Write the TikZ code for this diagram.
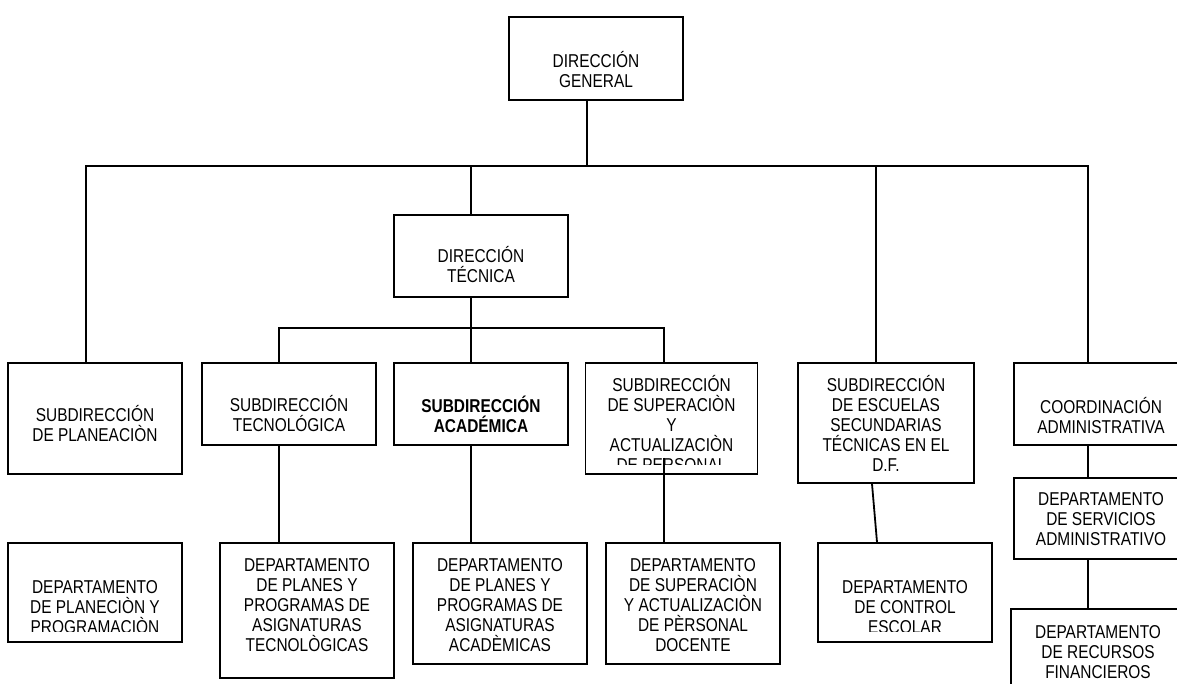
\documentclass[tikz,border=0pt]{standalone}
\usepackage{fontspec}
\newfontfamily\orgfont{Liberation Sans}[FakeStretch=0.83]
\usetikzlibrary{calc}

\tikzset{
  orgtext/.style={font=\orgfont\fontsize{18.6}{20}\selectfont, align=center, anchor=base,
    inner sep=0pt},
  orgbox/.style={draw, line width=1.8pt, inner sep=0pt, minimum width=174pt},
  link/.style={line width=1.8pt}
}

\begin{document}
\begin{tikzpicture}[x=1pt, y=-1pt]
    \useasboundingbox (0,0) rectangle (1177,684);
    \clip (0,0) rectangle (1177,684);

    \node[orgbox, minimum height=83pt] (gen) at (596,58.5) {};
    \node[orgbox, minimum height=82pt] (tec) at (481,256) {};
    \node[orgtext] (gen-t) at (596,88) {DIRECCIÓN\\GENERAL};
    \node[orgtext] (tec-t) at (481,283) {DIRECCIÓN\\TÉCNICA};

    % subdirecciones
    \node[orgbox, minimum height=111pt] (plan) at (95,418.5) {};
    \node[orgbox, minimum height=82pt] (tecn) at (289,404) {};
    \node[orgbox, minimum height=82pt] (acad) at (481,404) {};
    \node[orgbox, minimum width=172pt, minimum height=111pt] (sup) at (671.5,418.5) {};
    \node[orgbox, minimum width=176pt, minimum height=120pt] (esc) at (886,423) {};
    \node[orgbox, minimum height=82pt] (coord) at (1101,404) {};

    \node[orgtext] (plan-t) at (95,441) {SUBDIRECCIÓN\\DE PLANEACIÒN};
    \node[orgtext] (tecn-t) at (289,431) {SUBDIRECCIÓN\\TECNOLÓGICA};
    \node[orgtext, font=\orgfont\bfseries\fontsize{18.6}{20}\selectfont] (acad-t) at (481,432) {SUBDIRECCIÓN\\ACADÉMICA};
    \begin{scope}
        \clip (sup.north west) rectangle ([yshift=10pt]sup.south east);
        \node[orgtext] (sup-t) at (671.5,471) {SUBDIRECCIÓN\\DE SUPERACIÒN\\Y\\ACTUALIZACIÒN\\DE PERSONAL};
    \end{scope}
    \node[orgtext] (esc-t) at (886,471) {SUBDIRECCIÓN\\DE ESCUELAS\\SECUNDARIAS\\TÉCNICAS EN EL\\D.F.};
    \node[orgtext] (coord-t) at (1101,433) {COORDINACIÓN\\ADMINISTRATIVA};

    % departamentos
    \node[orgbox, minimum height=99pt] (dplan) at (95,592.5) {};
    \node[orgbox, minimum height=135pt] (dtecn) at (307,610.5) {};
    \node[orgbox, minimum height=121pt] (dacad) at (500,603.5) {};
    \node[orgbox, minimum height=121pt] (dsup) at (693,603.5) {};
    \node[orgbox, minimum height=99pt] (desc) at (905,592.5) {};
    \node[orgbox, minimum height=81pt] (dserv) at (1101,518.5) {};
    \node[orgbox, minimum height=101pt] (drec) at (1098,659.5) {};

    \begin{scope}
        \clip (dplan.north west) rectangle ([yshift=11pt]dplan.south east);
        \node[orgtext] (dplan-t) at (95,633) {DEPARTAMENTO\\DE PLANECIÒN Y\\PROGRAMACIÒN};
    \end{scope}
    \node[orgtext] (dtecn-t) at (307,651) {DEPARTAMENTO\\DE PLANES Y\\PROGRAMAS DE\\ASIGNATURAS\\TECNOLÒGICAS};
    \node[orgtext] (dacad-t) at (500,651) {DEPARTAMENTO\\DE PLANES Y\\PROGRAMAS DE\\ASIGNATURAS\\ACADÈMICAS};
    \node[orgtext] (dsup-t) at (693,651) {DEPARTAMENTO\\DE SUPERACIÒN\\Y ACTUALIZACIÒN\\DE PÈRSONAL\\DOCENTE};
    \begin{scope}
        \clip (desc.north west) rectangle ([yshift=11pt]desc.south east);
        \node[orgtext] (desc-t) at (905,633) {DEPARTAMENTO\\DE CONTROL\\ESCOLAR};
    \end{scope}
    \node[orgtext] (dserv-t) at (1101,545) {DEPARTAMENTO\\DE SERVICIOS\\ADMINISTRATIVO};
    \node[orgtext] (drec-t) at (1098,678) {DEPARTAMENTO\\DE RECURSOS\\FINANCIEROS};

    \coordinate (bus) at (587,166);
    \coordinate (sbus) at (471,328);

    \draw[link] ([xshift=-9]gen.south) -- (bus);
    \draw[link] ([xshift=-9]plan.north) |- (bus) -| ([xshift=-13]coord.north);
    \draw[link] ([xshift=-10]tec.north) -- ($(tec.north |- bus)+(-10,0)$);
    \draw[link] ([xshift=-10]esc.north) -- ($(esc.north |- bus)+(-10,0)$);

    \draw[link] ([xshift=-10]tec.south) -- (sbus);
    \draw[link] ([xshift=-10]tecn.north) |- (sbus) -| ([xshift=-7.5]sup.north);
    \draw[link] ([xshift=-10]acad.north) -- ($(acad.north |- sbus)+(-10,0)$);

    \draw[link] ([xshift=-10]tecn.south) -- ([xshift=-28]dtecn.north);
    \draw[link] ([xshift=-10]acad.south) -- ([xshift=-29]dacad.north);
    \draw[link] ([xshift=-7.5,yshift=17]sup.south) -- ([xshift=-29]dsup.north);
    \draw[link] ([xshift=-14]esc.south) -- ([xshift=-28]desc.north);
    \draw[link] ([xshift=-13]coord.south) -- ([xshift=-13]dserv.north);
    \draw[link] ([xshift=-13]dserv.south) -- ([xshift=-10]drec.north);
\end{tikzpicture}
\end{document}
